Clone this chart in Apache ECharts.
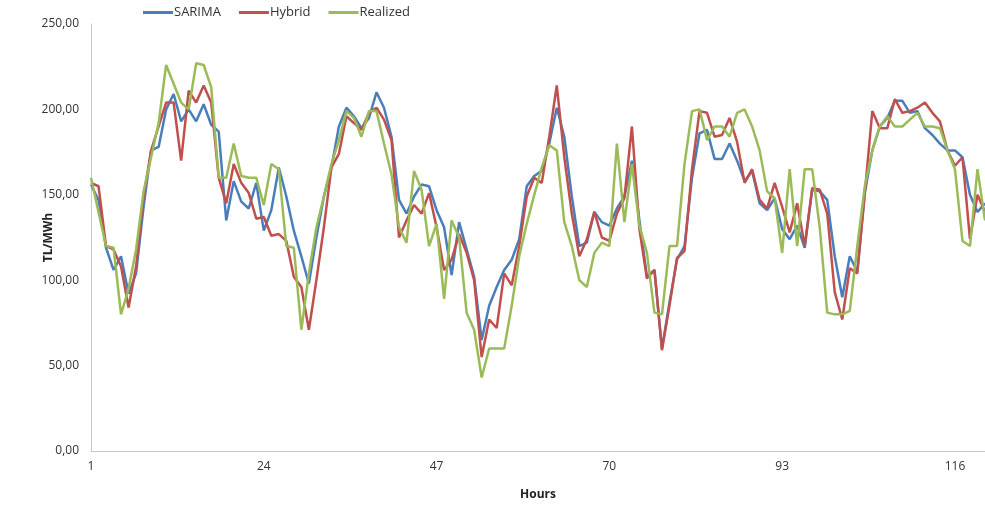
<!DOCTYPE html>
<html>
<head>
<meta charset="utf-8">
<script src="https://cdn.jsdelivr.net/npm/echarts@6/dist/echarts.min.js"></script>
<style>
  html, body { margin: 0; padding: 0; background: #fff; }
  #chart { width: 985px; height: 506px; }
</style>
</head>
<body>
<div id="chart"></div>
<script>
// hours 1..120
var hours = [];
for (var h = 1; h <= 120; h++) hours.push(String(h));

var sarima = [
  156, 147, 119, 106, 114, 92, 104, 143, 176, 178,
  200, 209, 193, 200, 193, 203, 191, 187, 135, 158,
  146, 142, 157, 129, 141, 166, 149, 129, 114, 98,
  125, 149, 166, 190, 201, 196, 189, 195, 210, 201,
  184, 147, 139, 149, 156, 155, 141, 131, 103, 134,
  118, 102, 65, 85, 96, 106, 112, 124, 155, 161,
  164, 180, 201, 184, 149, 120, 122, 140, 134, 132,
  142, 149, 170, 135, 102, 106, 60, 87, 112, 120,
  160, 186, 188, 171, 171, 180, 170, 158, 164, 145,
  141, 148, 130, 124, 132, 119, 153, 152, 147, 114,
  90, 114, 105, 151, 176, 190, 195, 205, 205, 198,
  199, 189, 185, 180, 176, 176, 172, 150, 140, 145
];

var hybrid = [
  157, 155, 120, 118, 108, 84, 108, 149, 176, 190,
  204, 204, 170, 211, 204, 214, 204, 160, 145, 168,
  157, 151, 136, 137, 126, 127, 123, 102, 96, 71,
  100, 131, 166, 174, 196, 192, 188, 198, 201, 194,
  182, 125, 135, 144, 139, 151, 131, 106, 112, 127,
  116, 100, 55, 77, 72, 104, 97, 120, 149, 160,
  157, 184, 214, 172, 139, 114, 124, 140, 125, 123,
  139, 148, 190, 130, 101, 106, 59, 85, 113, 117,
  165, 199, 198, 184, 185, 195, 181, 157, 165, 147,
  142, 157, 143, 128, 145, 120, 154, 153, 139, 93,
  77, 107, 104, 151, 199, 189, 189, 206, 198, 199,
  201, 204, 198, 193, 176, 167, 172, 124, 150, 140
];

var realized = [
  160, 140, 120, 119, 80, 95, 118, 152, 172, 192,
  226, 215, 204, 200, 227, 226, 213, 160, 160, 180,
  161, 160, 160, 144, 168, 165, 120, 119, 71, 104,
  131, 149, 168, 182, 199, 195, 184, 199, 199, 180,
  162, 131, 122, 164, 153, 120, 133, 89, 135, 125,
  81, 71, 43, 60, 60, 60, 85, 114, 133, 150,
  166, 179, 176, 134, 120, 100, 96, 116, 122, 120,
  180, 134, 168, 132, 116, 81, 80, 120, 120, 168,
  199, 200, 182, 190, 190, 184, 198, 200, 190, 176,
  152, 148, 116, 165, 120, 165, 165, 131, 81, 80,
  80, 82, 120, 155, 176, 190, 196, 190, 190, 194,
  198, 190, 190, 189, 176, 165, 123, 120, 165, 135
];

var yTicks = [0, 50, 100, 150, 200, 250];

var myChart = echarts.init(document.getElementById("chart"));
var option = {
  animation: false,
  textStyle: { fontFamily: 'Open Sans' },
  color: ['#4a7ebb', '#c0504d', '#9bbb59'],
  legend: {
    top: 1,
    left: 138,
    itemWidth: 30,
    itemHeight: 3,
    itemGap: 18,
    icon: 'rect',
    textStyle: { fontSize: 13, color: '#333', padding: [0, 0, 0, -4] },
    data: ['SARIMA', 'Hybrid', 'Realized']
  },
  grid: {
    left: 91,
    top: 24,
    width: 901,
    bottom: 54,
    containLabel: false
  },
  xAxis: {
    type: 'category',
    boundaryGap: false,
    data: hours,
    name: 'Hours',
    nameLocation: 'middle',
    nameGap: 38,
    nameTextStyle: { fontSize: 12, fontWeight: 'bold', color: '#222' },
    axisLine: { lineStyle: { color: '#c8c8c8', width: 1 } },
    axisTick: { show: false },
    axisLabel: { interval: 22, margin: 10, fontSize: 12, color: '#333' },
    splitLine: { show: false }
  },
  yAxis: {
    type: 'value',
    min: yTicks[0],
    max: yTicks[yTicks.length - 1],
    interval: 50,
    name: 'TL/MWh',
    nameLocation: 'middle',
    nameGap: 36,
    nameRotate: 90,
    nameMoveOverlap: false,
    nameTextStyle: { fontSize: 12, fontWeight: 'bold', color: '#222' },
    axisLine: { show: true, lineStyle: { color: '#c8c8c8', width: 1 } },
    axisTick: { show: false },
    splitLine: { show: false },
    axisLabel: {
      fontSize: 12,
      color: '#333',
      margin: 12,
      formatter: function (v) { return v.toFixed(2).replace('.', ','); }
    }
  },
  series: [
    { name: 'SARIMA', type: 'line', data: sarima, symbol: 'none', lineStyle: { width: 2.5 } },
    { name: 'Hybrid', type: 'line', data: hybrid, symbol: 'none', lineStyle: { width: 2.5 } },
    { name: 'Realized', type: 'line', data: realized, symbol: 'none', lineStyle: { width: 2.5 } }
  ]
};
myChart.setOption(option);
</script>
</body>
</html>
